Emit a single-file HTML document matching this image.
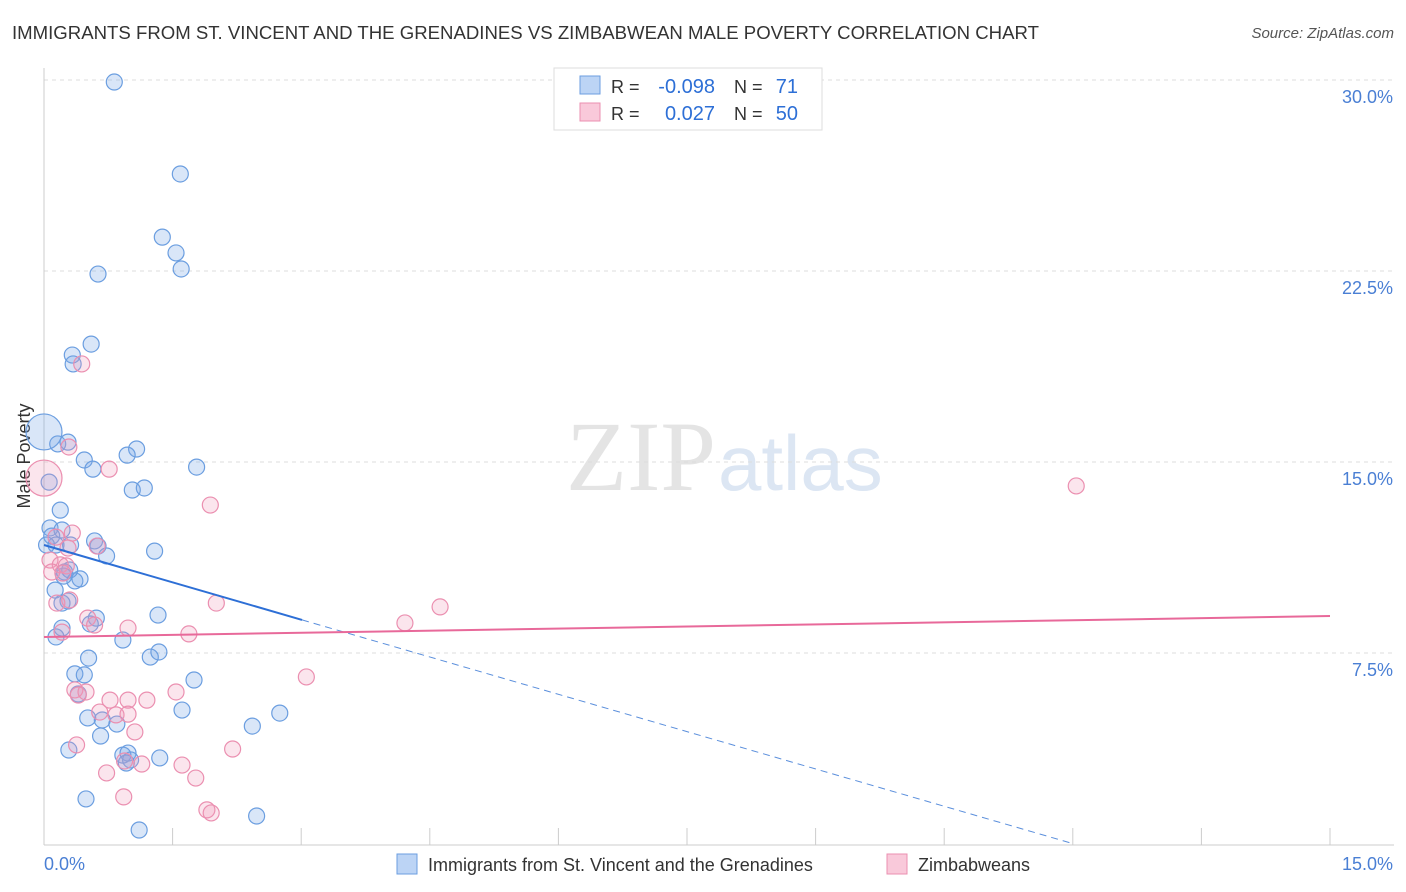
<!DOCTYPE html>
<html><head><meta charset="utf-8">
<style>
body{margin:0;background:#fff;font-family:"Liberation Sans",sans-serif;}
#wrap{position:relative;width:1406px;height:892px;overflow:hidden;}
.title{position:absolute;left:12px;top:22px;font-size:18.6px;color:#333;}
.source{position:absolute;right:12px;top:25px;font-size:15px;color:#555;font-style:italic;}
</style></head><body>
<div id="wrap">
<div class="title">IMMIGRANTS FROM ST. VINCENT AND THE GRENADINES VS ZIMBABWEAN MALE POVERTY CORRELATION CHART</div>
<div class="source">Source: ZipAtlas.com</div>
<svg id="svg" width="1406" height="892" style="position:absolute;left:0;top:0">
<text x="716" y="490" font-size="100" fill="#e4e4e4" text-anchor="end" font-family="Liberation Serif">ZIP</text>
<text x="718" y="490" font-size="78" fill="#dce6f3" font-family="Liberation Sans">atlas</text>
</svg>
</div>
<script>
const blueX=[0.82,1.59,1.38,1.54,0.63,1.60,0.33,0.55,0.34,0,0.16,0.28,0.47,0.57,1.08,0.97,1.78,1.03,1.17,0.06,0.19,0.07,0.21,0.09,0.14,0.31,0.59,0.63,0.73,1.29,0.24,0.42,0.36,0.23,0.13,0.28,0.21,0.61,0.54,1.33,0.21,0.14,0.92,0.52,1.24,1.34,0.36,0.47,1.75,0.40,0.51,0.68,0.85,1.61,2.43,2.75,0.66,0.92,0.98,1.01,0.96,1.35,0.29,0.49,1.11,2.48,0.03,0.30];
const blueY=[29.92,26.31,23.83,23.21,22.38,22.58,19.20,19.63,18.85,16.18,15.71,15.78,15.08,14.72,15.51,15.27,14.80,13.90,13.98,14.21,13.11,12.41,12.33,12.09,11.74,11.74,11.90,11.70,11.31,11.50,10.68,10.41,10.33,10.52,9.97,9.54,9.46,8.87,8.64,8.99,8.48,8.13,8.01,7.30,7.34,7.54,6.68,6.64,6.44,5.89,4.95,4.87,4.71,5.26,4.63,5.14,4.24,3.49,3.57,3.30,3.18,3.38,3.69,1.77,0.55,1.10,11.74,10.76];
const pinkX=[0.44,0,0.29,0.76,1.94,0.33,0.14,0.62,0.28,0.07,0.19,0.26,0.09,0.22,0.15,0.30,0.51,0.59,0.98,1.69,2.01,4.21,4.62,12.04,3.06,0.21,0.36,0.40,0.49,0.77,0.65,0.98,1.20,1.54,0.84,0.98,1.06,0.38,2.20,0.94,1.14,1.61,0.73,1.77,0.93,1.90,1.95];
const pinkY=[18.85,14.37,15.59,14.72,13.31,12.21,12.05,11.70,11.62,11.15,10.96,10.92,10.68,10.64,9.46,9.58,8.87,8.60,8.48,8.25,9.46,8.68,9.31,14.06,6.56,8.32,6.05,5.85,5.97,5.65,5.18,5.65,5.65,5.97,5.07,5.10,4.40,3.89,3.73,3.26,3.14,3.10,2.79,2.59,1.85,1.34,1.22];
const yTicks=[7.5,15,22.5,30];
const yTickLabels=["7.5%","15.0%","22.5%","30.0%"];
const blueTrend=[11.74,-0.977];
const pinkTrend=[8.13,0.0547];
const NS="http://www.w3.org/2000/svg";
const svg=document.getElementById('svg');
const X=v=>44+v*1286/15;
const Y=v=>844-v*191/7.5;
function mk(tag,a){const e=document.createElementNS(NS,tag);for(const k in a)e.setAttribute(k,a[k]);svg.appendChild(e);return e;}
yTicks.forEach((t,i)=>{
 const g=mk('line',{x1:44,x2:1394,y1:Y(t),y2:Y(t),stroke:'#ddd','stroke-dasharray':'4,4'});
 
 
 const l=mk('text',{x:1393,y:Y(t)+23,'text-anchor':'end','font-size':18,fill:'#4a7fd4'});
 l.textContent=yTickLabels[i];
 
 
});
let ax=mk('line',{x1:44,x2:1394,y1:845,y2:845,stroke:'#ccc'});


let ay=mk('line',{x1:44,x2:44,y1:68,y2:845,stroke:'#ccc'});


for(let i=0;i<=10;i++){const t=mk('line',{x1:X(i*1.5),x2:X(i*1.5),y1:828,y2:845,stroke:'#ccc'});
 
 }
function lbl(x,y,txt,anchor,name,size,fill){const t=mk('text',{x:x,y:y,'text-anchor':anchor,'font-size':size,fill:fill});t.textContent=txt;
 
 return t;}
lbl(44,870,'0.0%','start','x-min-label',18,'#4a7fd4');
lbl(1393,870,'15.0%','end','x-max-label',18,'#4a7fd4');
const yt=lbl(0,0,'Male Poverty','middle','y-axis-title',18,'#333');yt.setAttribute('transform','translate(30,456) rotate(-90)');
function pts(xs,ys,stroke,fill,name){xs.forEach((x,i)=>{const r=(x===0&&ys[i]>14)?18:8;
 const c=mk('circle',{cx:X(x),cy:Y(ys[i]),r:r,fill:fill,stroke:stroke,'stroke-width':1.2});
 
 });}
pts(blueX,blueY,'#6b9ee0','rgba(120,165,230,0.28)','point-immigrants');
pts(pinkX,pinkY,'#eb8fb0','rgba(240,150,185,0.25)','point-zimbabweans');
const bx2=3.01, bx3=-blueTrend[0]/blueTrend[1];
let b1=mk('line',{x1:X(0),y1:Y(blueTrend[0]),x2:X(bx2),y2:Y(blueTrend[0]+blueTrend[1]*bx2),stroke:'#2d6fd6','stroke-width':2});


let b2=mk('line',{x1:X(bx2),y1:Y(blueTrend[0]+blueTrend[1]*bx2),x2:X(bx3),y2:Y(0),stroke:'#5b8fdc','stroke-width':1,'stroke-dasharray':'7,5'});


let p1=mk('line',{x1:X(0),y1:Y(pinkTrend[0]),x2:X(15),y2:Y(pinkTrend[0]+pinkTrend[1]*15),stroke:'#e8699a','stroke-width':2});


let box=mk('rect',{x:554,y:68,width:268,height:62,fill:'#fff',stroke:'#ddd'});


let s1=mk('rect',{x:580,y:76,width:20,height:18,fill:'#bcd4f5',stroke:'#6b9ee0'});


let s2=mk('rect',{x:580,y:103,width:20,height:18,fill:'#f9c9da',stroke:'#eb8fb0'});


lbl(611,93,'R =','start','stats-r-label',18,'#333');
lbl(715,93,'-0.098','end','stats-r-blue',20,'#2d6fd6');
lbl(734,93,'N =','start','stats-n-label',18,'#333');
lbl(798,93,'71','end','stats-n-blue',20,'#2d6fd6');
lbl(611,120,'R =','start','stats-r-label',18,'#333');
lbl(715,120,'0.027','end','stats-r-pink',20,'#2d6fd6');
lbl(734,120,'N =','start','stats-n-label',18,'#333');
lbl(798,120,'50','end','stats-n-pink',20,'#2d6fd6');
let l1=mk('rect',{x:397,y:854,width:20,height:20,fill:'#bcd4f5',stroke:'#6b9ee0'});


lbl(428,871,'Immigrants from St. Vincent and the Grenadines','start','legend-entry-immigrants',18,'#333');
let l2=mk('rect',{x:887,y:854,width:20,height:20,fill:'#f9c9da',stroke:'#eb8fb0'});


lbl(918,871,'Zimbabweans','start','legend-entry-zimbabweans',18,'#333');
</script>
</body></html>
